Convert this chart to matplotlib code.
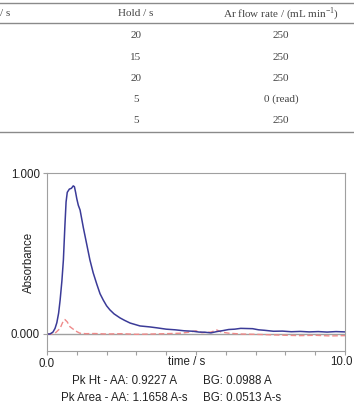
import matplotlib
matplotlib.use('Agg')
import matplotlib.pyplot as plt

W, H = 354, 405

# table contents
hdr_left = '/ s'
hdr_hold = 'Hold / s'
hdr_flow = 'Ar flow rate / (mL min$^{\\mathregular{-1}}$)'
hold = ['20', '15', '20', '5', '5']
flow = ['250', '250', '250', '0 (read)', '250']

# absorbance traces (time / s, absorbance)
t_aa = [0.0, 0.1, 0.2, 0.27, 0.33, 0.39, 0.44, 0.5, 0.55, 0.6, 0.64, 0.68,
        0.75, 0.82, 0.88, 0.92, 0.96, 1.0, 1.05, 1.11, 1.22, 1.33, 1.44,
        1.55, 1.67, 1.78, 1.89, 2.0, 2.11, 2.25, 2.45, 2.6, 2.79, 3.12, 3.45,
        3.7, 4.0, 4.3, 4.6, 4.9, 5.1, 5.3, 5.5, 5.7, 5.9, 6.1, 6.3, 6.5,
        6.7, 6.9, 7.1, 7.3, 7.6, 7.9, 8.2, 8.5, 8.8, 9.1, 9.4, 9.7, 10.0]
aa = [0.0, 0.0, 0.012, 0.035, 0.07, 0.13, 0.21, 0.33, 0.46, 0.67, 0.82, 0.88,
      0.9, 0.905, 0.92, 0.915, 0.88, 0.84, 0.8, 0.77, 0.66, 0.56, 0.46,
      0.38, 0.31, 0.25, 0.21, 0.175, 0.15, 0.125, 0.1, 0.085, 0.068, 0.05,
      0.044, 0.038, 0.03, 0.026, 0.02, 0.017, 0.012, 0.011, 0.007, 0.015,
      0.021, 0.028, 0.03, 0.035, 0.034, 0.033, 0.026, 0.023, 0.017, 0.018,
      0.014, 0.016, 0.013, 0.015, 0.012, 0.015, 0.013]

t_bg = [0.0, 0.2, 0.3, 0.44, 0.52, 0.6, 0.68, 0.77, 0.88, 1.0, 1.1,
        1.3, 1.6, 2.0, 2.5, 3.0, 3.5, 4.0, 4.5, 4.8, 5.0, 5.2, 5.5, 5.7,
        5.85, 6.1, 6.5, 7.0, 7.5, 8.0, 8.5, 9.0, 9.5, 10.0]
bg = [0.0, 0.0, 0.01, 0.035, 0.07, 0.09, 0.075, 0.045, 0.03, 0.015, 0.005,
      0.002, 0.003, 0.0, 0.002, -0.002, 0.0, 0.002, 0.005, 0.012,
      0.02, 0.008, 0.012, 0.025, 0.012, 0.005, 0.0, -0.002, -0.005, -0.008,
      -0.01, -0.008, -0.012, -0.01]

results = [('Pk Ht - AA: 0.9227 A', 'BG: 0.0988 A'),
           ('Pk Area - AA: 1.1658 A-s', 'BG: 0.0513 A-s')]

plt.rcParams['font.family'] = ['Liberation Sans', 'DejaVu Sans']
plt.rcParams['mathtext.fontset'] = 'custom'
plt.rcParams['mathtext.rm'] = 'Liberation Serif'
fig = plt.figure(figsize=(W / 100, H / 100), dpi=100)


def px(x, y):
    return x / W, 1 - y / H


# table part
serif = dict(family='Liberation Serif', fontsize=8, color='#444444')
for y in (3, 23, 132):
    fig.add_artist(plt.Line2D([0, 1], [1 - y / H] * 2, color='#8a8a8a', lw=1))
fig.text(*px(0, 14), hdr_left, ha='left', va='center', **serif)
fig.text(*px(136, 14), hdr_hold, ha='center', va='center', **serif)
fig.text(*px(281, 14), hdr_flow, ha='center', va='center', **serif)
for i in range(len(hold)):
    y = 36 + i * 21.2
    fig.text(*px(136, y), hold[i], ha='center', va='center', **serif)
    fig.text(*px(281, y), flow[i], ha='center', va='center', **serif)

# chart
ax = fig.add_axes([47 / W, (H - 351) / H, 298 / W, 178 / H])
ax.plot(t_bg, bg, color='#ef8a8a', lw=1, dashes=(4, 2))
ax.plot(t_aa, aa, color='#3b3b98', lw=1.1)
ax.axhline(0, color='#a0a0a0', lw=1, zorder=0)
ax.set_xlim(0, 10)
ax.set_ylim(-17 / 161, 1.0)
for s in ax.spines.values():
    s.set_color('#a0a0a0')
ax.set_xticks(range(11))
ax.set_xticklabels(['0.0'] + [''] * 10)
ax.set_yticks([0, 1])
ax.set_yticklabels(['0.000', '1.000'])
ax.tick_params(colors='#a0a0a0', labelcolor='#222222', labelsize=8.3,
               length=3, pad=2)
ax.set_ylabel('Absorbance', fontsize=8.3, color='#222222')
ax.yaxis.set_label_coords(-0.04, 0.5)

# last x tick label kept inside the picture, as in the original
fig.text(*px(353, 362), '10.0', ha='right', va='center',
         fontsize=8.3, color='#222222')
fig.text(*px(187, 362), 'time / s', ha='center', va='center',
         fontsize=8.3, color='#222222')
for i, (a, b) in enumerate(results):
    y = 381 + i * 17
    fig.text(*px(124, y), a, ha='center', va='center', fontsize=8.3,
             color='#222222')
    fig.text(*px(203, y), b, ha='left', va='center', fontsize=8.3,
             color='#222222')

fig.savefig('out.png', dpi=100)
